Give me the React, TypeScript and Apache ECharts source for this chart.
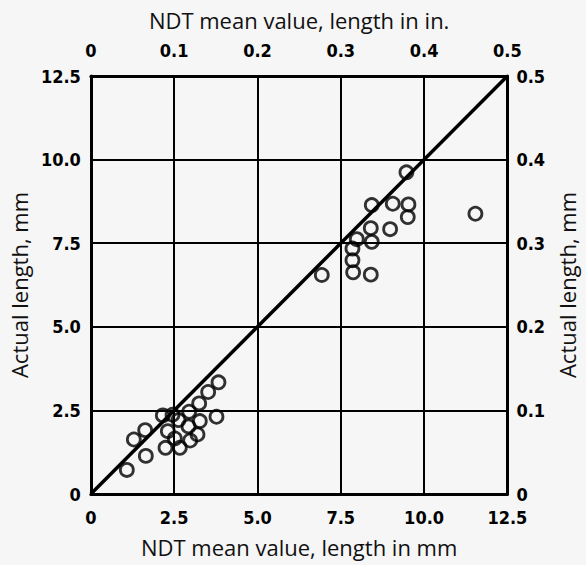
import React, { useEffect, useRef } from "react";
import * as echarts from "echarts";

// Bottom / left axes (mm) and top / right axes (in.)
const mmMax = 12.5;
const mmStep = 2.5;
const inMax = 0.5;
const inStep = 0.1;

// Measured points: NDT mean value (mm) vs actual length (mm)
const ndtMm = [
  1.08, 1.29, 1.63, 1.65, 2.16, 2.24, 2.31, 2.45, 2.63, 2.52, 2.67, 2.95, 2.93, 2.98,
  3.25, 3.27, 3.2, 3.52, 3.83, 3.77,
  6.93, 7.85, 7.85, 7.87, 7.98, 8.4, 8.43, 8.4, 8.98, 8.43, 9.06, 9.53, 9.51, 9.47, 11.54,
];
const actualMm = [
  0.72, 1.63, 1.91, 1.14, 2.35, 1.38, 1.88, 2.37, 2.21, 1.66, 1.38, 2.46, 2.02, 1.6,
  2.71, 2.18, 1.78, 3.05, 3.34, 2.31,
  6.55, 7.34, 6.99, 6.63, 7.62, 6.56, 7.54, 7.95, 7.92, 8.64, 8.68, 8.66, 8.28, 9.62, 8.38,
];
// Line of perfect agreement
const diagonal = [
  [0, 0],
  [12.5, 12.5],
];

const titleFont = "'Open Sans', 'Noto Sans', sans-serif";
const tickFont = "'Liberation Sans Narrow', 'DejaVu Sans Condensed', sans-serif";

const fmt = (v: number) => (Math.abs(v) < 1e-9 ? "0" : v.toFixed(1));

export default function App() {
  const ref = useRef<HTMLDivElement>(null);
  useEffect(() => {
    document.body.style.margin = "0";
    document.body.style.background = "#f6f6f6";
    if (!ref.current) return;
    const chart = echarts.init(ref.current, undefined, { renderer: "svg" });
    const axisLine = { show: true, onZero: false, lineStyle: { color: "#000", width: 3 } };
    const split = { show: true, lineStyle: { color: "#000", width: 2 } };
    const nameStyle = { fontFamily: titleFont, fontSize: 22, color: "#111" };
    const labelBase = {
      formatter: fmt,
      fontFamily: tickFont,
      fontWeight: "bold" as const,
      fontSize: 18,
      color: "#000",
      showMinLabel: true,
      showMaxLabel: true,
    };
    chart.setOption({
      animation: false,
      backgroundColor: "#f6f6f6",
      grid: { left: 84, right: 75, top: 76, bottom: 71, containLabel: false },
      xAxis: [
        {
          type: "value",
          position: "bottom",
          min: 0,
          max: mmMax,
          interval: mmStep,
          name: "NDT mean value, length in mm",
          nameLocation: "middle",
          nameGap: 42,
          nameTextStyle: nameStyle,
          axisLine,
          axisTick: { show: false },
          splitLine: split,
          axisLabel: { ...labelBase, margin: 14 },
        },
        {
          type: "value",
          position: "top",
          min: 0,
          max: inMax,
          interval: inStep,
          name: "NDT mean value, length in in.",
          nameLocation: "middle",
          nameGap: 45,
          nameTextStyle: nameStyle,
          axisLine,
          axisTick: { show: false },
          splitLine: { show: false },
          axisLabel: { ...labelBase, margin: 17 },
        },
      ],
      yAxis: [
        {
          type: "value",
          position: "left",
          min: 0,
          max: mmMax,
          interval: mmStep,
          name: "Actual length, mm",
          nameLocation: "middle",
          nameRotate: 90,
          nameGap: 52,
          nameTextStyle: nameStyle,
          axisLine,
          axisTick: { show: false },
          splitLine: split,
          axisLabel: { ...labelBase, margin: 10 },
        },
        {
          type: "value",
          position: "right",
          min: 0,
          max: inMax,
          interval: inStep,
          name: "Actual length, mm",
          nameLocation: "middle",
          nameRotate: 90,
          nameGap: 42,
          nameTextStyle: nameStyle,
          axisLine,
          axisTick: { show: false },
          splitLine: { show: false },
          axisLabel: { ...labelBase, margin: 9 },
        },
      ],
      series: [
        {
          type: "line",
          xAxisIndex: 0,
          yAxisIndex: 0,
          data: diagonal,
          symbol: "none",
          lineStyle: { color: "#000", width: 3.5 },
          silent: true,
        },
        {
          type: "scatter",
          xAxisIndex: 0,
          yAxisIndex: 0,
          data: ndtMm.map((x, i) => [x, actualMm[i]]),
          symbol: "circle",
          symbolSize: 13,
          itemStyle: { color: "rgba(0,0,0,0)", borderColor: "#000", borderWidth: 2.8 },
        },
      ],
    });
    return () => chart.dispose();
  }, []);
  return <div ref={ref} style={{ width: 586, height: 565 }} />;
}
